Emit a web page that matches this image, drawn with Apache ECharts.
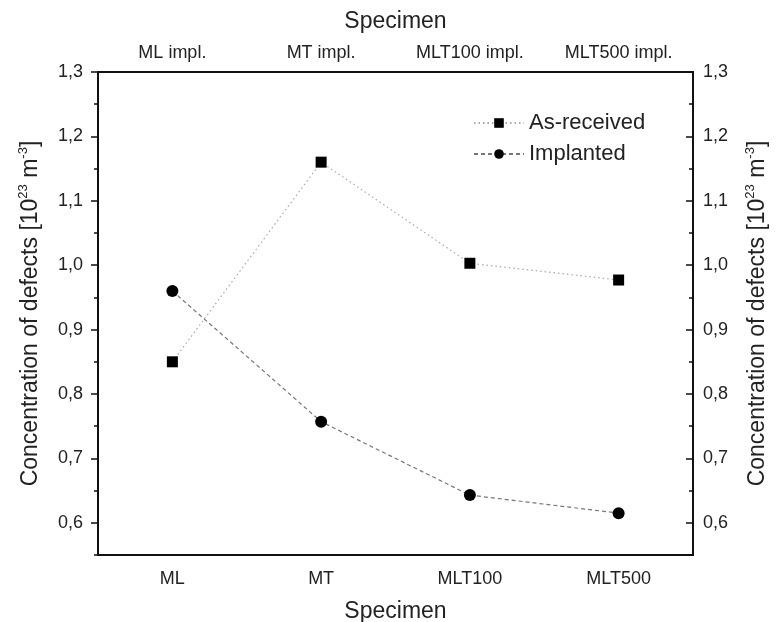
<!DOCTYPE html>
<html>
<head>
<meta charset="utf-8">
<script src="https://cdn.jsdelivr.net/npm/echarts@6/dist/echarts.min.js"></script>
<style>html,body{margin:0;padding:0;background:#fff}#c{width:778px;height:622px}</style>
</head>
<body>
<div id="c"></div>
<script>
var categories = ['ML', 'MT', 'MLT100', 'MLT500'];
var topLabels = ['ML impl.', 'MT impl.', 'MLT100 impl.', 'MLT500 impl.'];
var asReceived = [0.850, 1.160, 1.003, 0.977];
var implanted = [0.960, 0.757, 0.643, 0.615];
var majorTicks = [0.6, 0.7, 0.8, 0.9, 1.0, 1.1, 1.2, 1.3];
var minorTicks = [0.55, 0.65, 0.75, 0.85, 0.95, 1.05, 1.15, 1.25];

var FONT = '"Liberation Sans", Arial, sans-serif';
var TXT = '#222';
function fmt(v){ return v.toFixed(1).replace('.', ','); }
var nameRich = {
  n: {fontSize: 23, fontFamily: FONT, color: TXT},
  sup: {fontSize: 13, fontFamily: FONT, color: TXT, verticalAlign: 'top', padding: [0,0,14,0]}
};
var yName = '{n|Concentration of defects [10}{sup|23}{n| m}{sup|-3}{n|]}';

function yAxis(pos, inside, labels, name, gap){
  return {
    type: 'value', position: pos, min: 0.55, max: 1.3,
    axisLine: {show: true, lineStyle: {color: '#111', width: 2}},
    axisTick: {show: true, inside: inside, length: 7, customValues: majorTicks, lineStyle: {color: '#111', width: 1.5}},
    axisLabel: {show: labels, customValues: majorTicks, formatter: fmt, fontSize: 18, fontFamily: FONT, color: TXT, margin: inside ? 10 : 15},
    splitLine: {show: false},
    name: name, nameLocation: 'middle', nameRotate: 90, nameGap: gap,
    nameTextStyle: {rich: nameRich}
  };
}
function minorAxis(pos, inside){
  return {
    type: 'value', position: pos, min: 0.55, max: 1.3,
    axisLine: {show: false},
    axisTick: {show: true, inside: inside, length: 4, customValues: minorTicks, lineStyle: {color: '#111', width: 1.5}},
    axisLabel: {show: false},
    splitLine: {show: false}
  };
}

var chart = echarts.init(document.getElementById('c'), null, {renderer: 'canvas'});
chart.setOption({
  backgroundColor: '#fff',
  animation: false,
  grid: {left: 98, right: 85, top: 72, bottom: 67, containLabel: false, outerBoundsMode: 'none'},
  legend: {
    orient: 'vertical', left: 468, top: 107, itemWidth: 50, itemHeight: 12, itemGap: 9,
    textStyle: {fontSize: 22, fontFamily: FONT, color: TXT},
    data: ['As-received', 'Implanted']
  },
  xAxis: [
    {
      type: 'category', data: categories, position: 'bottom', boundaryGap: true,
      axisLine: {lineStyle: {color: '#111', width: 2}},
      axisTick: {alignWithLabel: true, length: 7, lineStyle: {color: '#111', width: 1.5}},
      axisLabel: {fontSize: 18, fontFamily: FONT, color: TXT, margin: 15},
      name: 'Specimen', nameLocation: 'middle', nameGap: 45,
      nameTextStyle: {fontSize: 23, fontFamily: FONT, color: TXT}
    },
    {
      type: 'category', data: topLabels, position: 'top', boundaryGap: true,
      axisLine: {lineStyle: {color: '#111', width: 2}},
      axisTick: {alignWithLabel: true, inside: true, length: 7, lineStyle: {color: '#111', width: 1.5}},
      axisLabel: {fontSize: 18, fontFamily: FONT, color: TXT, margin: 10},
      name: 'Specimen', nameLocation: 'middle', nameGap: 39,
      nameTextStyle: {fontSize: 23, fontFamily: FONT, color: TXT}
    }
  ],
  yAxis: [
    yAxis('left', false, true, yName, 54),
    yAxis('right', true, true, yName, 51),
    minorAxis('left', false),
    minorAxis('right', true)
  ],
  series: [
    {
      name: 'As-received', type: 'line', data: asReceived, xAxisIndex: 0, yAxisIndex: 0,
      symbol: 'rect', symbolSize: 11,
      itemStyle: {color: '#000'},
      lineStyle: {color: '#aaa', width: 1.2, type: [1.5, 3]}
    },
    {
      name: 'Implanted', type: 'line', data: implanted, xAxisIndex: 0, yAxisIndex: 0,
      symbol: 'circle', symbolSize: 12,
      itemStyle: {color: '#000'},
      lineStyle: {color: '#777', width: 1.2, type: [4, 3]}
    }
  ]
});
</script>
</body>
</html>
